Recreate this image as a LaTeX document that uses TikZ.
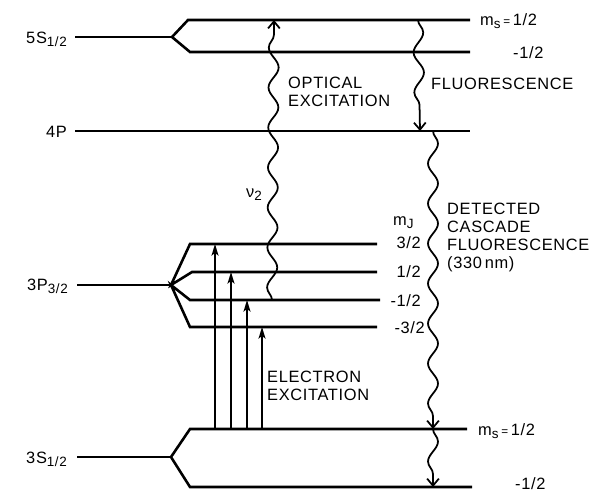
\documentclass[tikz,border=0pt]{standalone}
\usepackage{fontspec}
\setmainfont{Liberation Sans}[LetterSpace=4]
\usepackage{tikz}
\usetikzlibrary{arrows.meta,decorations.pathmorphing}
\newcommand\lsub[1]{\raisebox{-3.4pt}{\fontsize{11.5}{12}\selectfont #1}}
\newcommand\smeq{{\fontsize{10}{10}\selectfont =}}
\tikzset{
  level/.style={line width=2.2pt, line join=miter},
  lbl/.style={font=\fontsize{14}{15.4}\selectfont, inner sep=0pt, align=left},
  exarrow/.style={-{Stealth[length=10pt,width=6pt,inset=2.5pt]}, line width=1.3pt},
  wavearrow/.style={-{Straight Barb[length=6pt,width=10pt]}, line width=1.5pt, decorate,
    decoration={snake, segment length=1.2cm, amplitude=0.15cm, post length=0.22cm}},
}

\begin{document}
\begin{tikzpicture}[x=0.03cm, y=-0.03cm]
  \useasboundingbox (0,0) rectangle (593,493);

  % 5S_{1/2}
  \node[lbl, anchor=base east] (l5s) at (67,43) {5S\lsub{1/2}};
  \coordinate (s5) at (172,37);
  \draw[level] (75,37) -- (s5);
  \draw[level] (470,20) -- (188,20) -- (s5) -- (190,52) -- (470,52);
  \node[lbl, anchor=base west] (ms5a) at (480,25) {m\lsub{s}\,\smeq\,1/2};
  \node[lbl, anchor=base west] (ms5b) at (513,58) {-1/2};

  % 4P
  \node[lbl, anchor=base east] (l4p) at (67,137) {4P};
  \draw[level] (75,131) -- (470,131);

  % 3P_{3/2}
  \node[lbl, anchor=base east] (l3p) at (68,290) {3P\lsub{3/2}};
  \coordinate (p3) at (171,285);
  \draw[level] (77,285) -- (p3);
  \draw[level] (377,244) -- (190,244) -- (p3) -- (192,272) -- (377,272);
  \draw[level] (380,300) -- (190,300) -- (p3) -- (190,327) -- (377,327);
  \node[lbl, anchor=base west] (mj) at (393,225) {m\lsub{J}};
  \node[lbl, anchor=base east] (mj1) at (421,248) {3/2};
  \node[lbl, anchor=base east] (mj2) at (421,277) {1/2};
  \node[lbl, anchor=base east] (mj3) at (421,306) {-1/2};
  \node[lbl, anchor=base east] (mj4) at (425,333) {-3/2};

  % 3S_{1/2}
  \node[lbl, anchor=base east] (l3s) at (67,463) {3S\lsub{1/2}};
  \coordinate (s3) at (171,457);
  \draw[level] (77,457) -- (s3);
  \draw[level] (467,429) -- (190,429) -- (s3) -- (190,487) -- (472,487);
  \node[lbl, anchor=base west] (ms3a) at (478,435) {m\lsub{s}\,\smeq\,1/2};
  \node[lbl, anchor=base west] (ms3b) at (515,489) {-1/2};

  % electron excitation
  \foreach \x/\y [count=\i] in {215/244, 231/272, 247/300, 262/327} {
    \coordinate (ex\i a) at (\x,429);
    \coordinate (ex\i b) at (\x,\y);
    \draw[exarrow] (ex\i a) -- (ex\i b);
  }
  \node[lbl, anchor=north west] (elex) at (267,371) {ELECTRON\\EXCITATION};

  % optical excitation and fluorescence
  \coordinate (ox1) at (272,300);
  \coordinate (ox2) at (274,20);
  \draw[wavearrow] (ox1) -- (ox2);
  \node[lbl, anchor=base west] (nu) at (246,197) {ν\lsub{2}};
  \node[lbl, anchor=north west] (optex) at (288,77) {OPTICAL\\EXCITATION};

  \coordinate (fl1) at (418,20);
  \coordinate (fl2) at (420,131);
  \draw[wavearrow] (fl1) -- (fl2);
  \node[lbl, anchor=base west] (fluo) at (431,89) {FLUORESCENCE};

  % cascade
  \coordinate (cf1) at (433,131);
  \coordinate (cf2) at (433,429);
  \coordinate (cf3) at (433,487);
  \draw[wavearrow] (cf1) -- (cf2);
  \draw[wavearrow] (cf2) -- (cf3);
  \node[lbl, anchor=north west] (casc) at (447,203) {DETECTED\\CASCADE\\FLUORESCENCE\\(330\,nm)};

\end{tikzpicture}
\end{document}
